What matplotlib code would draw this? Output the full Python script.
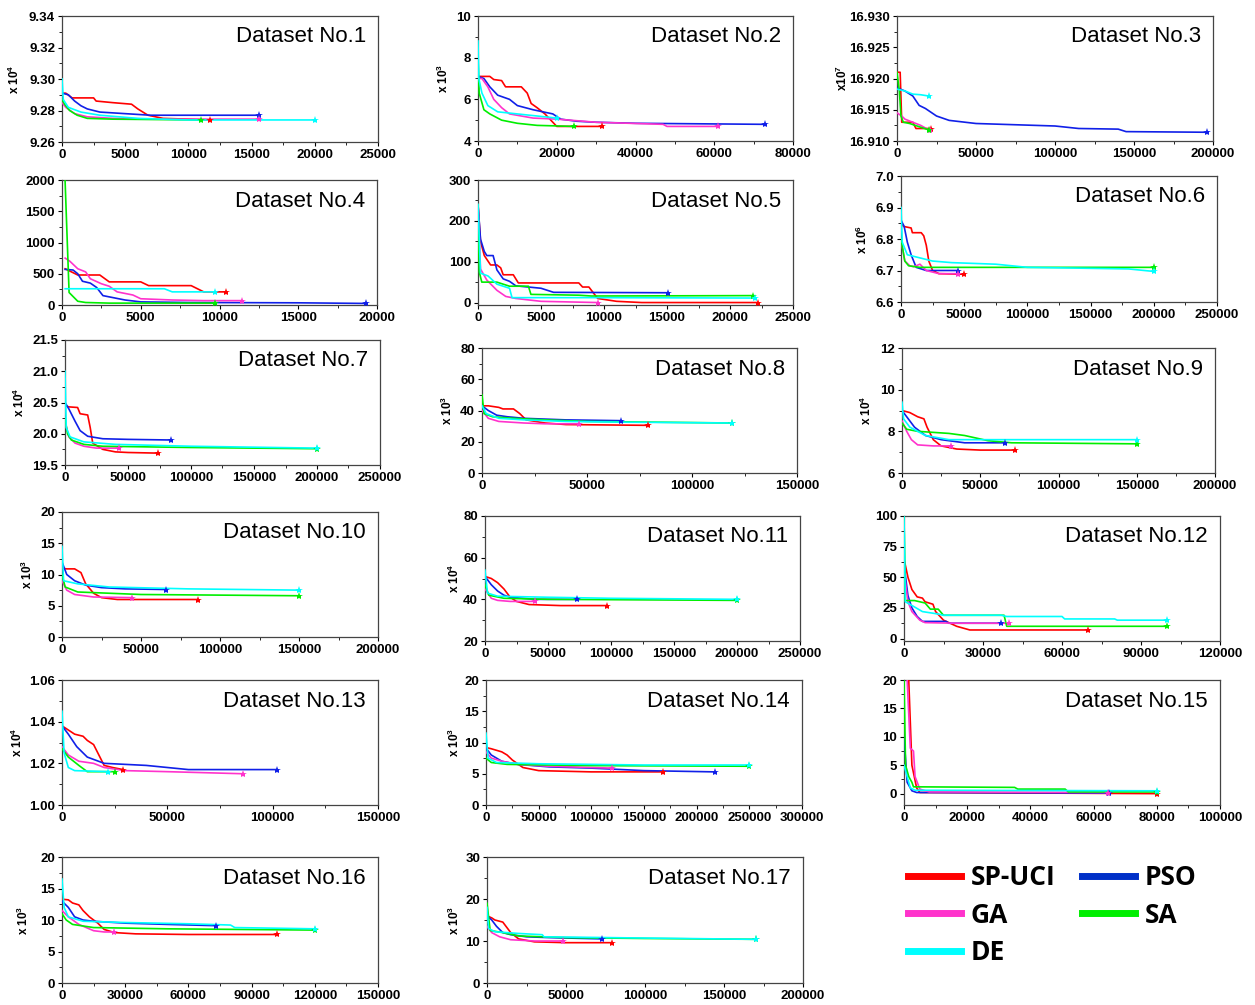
"""
Convergence curves of SP-UCI, PSO, GA, SA and DE on 17 datasets.
"""

import numpy as np
import matplotlib
matplotlib.use("Agg")
import matplotlib.pyplot as plt
from matplotlib.lines import Line2D
from matplotlib.ticker import AutoMinorLocator, FormatStrFormatter

plt.rcParams['font.family'] = ['Liberation Sans', 'DejaVu Sans']
plt.rcParams['mathtext.fontset'] = 'custom'
plt.rcParams['mathtext.rm'] = 'Liberation Sans:bold'
plt.rcParams['mathtext.bf'] = 'Liberation Sans:bold'

ALGOS = ["SP-UCI", "PSO", "GA", "SA", "DE"]
COLORS = {"SP-UCI": "#ff0000", "PSO": "#1020e8", "GA": "#ff33cc",
          "SA": "#00ee00", "DE": "#00ffff"}
LEGEND_COLORS = {"SP-UCI": "#ff0000", "PSO": "#0030c8", "GA": "#ff33cc",
                 "SA": "#00ee00", "DE": "#00ffff"}

# ---- data: (function evaluations, best objective) per algorithm ----
D1_SP = [(0, 9.291), (300, 9.291), (800, 9.288), (2500, 9.288), (2700, 9.286), (4000, 9.285),
         (5500, 9.284), (6000, 9.281), (6800, 9.277), (8000, 9.275), (10000, 9.2745), (11700, 9.274)]
D1_PSO = [(0, 9.291), (500, 9.290), (1000, 9.286), (1500, 9.283), (2000, 9.281), (3000, 9.279),
          (5000, 9.278), (7000, 9.277), (15600, 9.277)]
D1_GA = [(0, 9.285), (300, 9.282), (1000, 9.278), (2000, 9.276), (4000, 9.275), (8000, 9.2745),
         (15600, 9.2745)]
D1_SA = [(0, 9.287), (200, 9.284), (600, 9.280), (1200, 9.277), (2000, 9.275), (4000, 9.2745),
         (11000, 9.274)]
D1_DE = [(0, 9.300), (100, 9.287), (500, 9.282), (1500, 9.279), (3000, 9.277), (6000, 9.275),
         (10000, 9.274), (20000, 9.274)]

D2_SP = [(0, 7.1), (3000, 7.1), (4000, 6.95), (6000, 6.9), (7000, 6.6), (11000, 6.6), (12500, 6.3),
         (13500, 5.8), (15000, 5.6), (17000, 5.3), (19000, 4.9), (20000, 4.7), (31500, 4.7)]
D2_PSO = [(0, 7.1), (1500, 7.0), (3000, 6.6), (5000, 6.2), (8000, 6.0), (10000, 5.7), (14000, 5.5),
          (19000, 5.3), (21000, 5.05), (25000, 4.95), (30000, 4.9), (40000, 4.85), (73000, 4.8)]
D2_GA = [(0, 7.0), (1000, 7.0), (2500, 6.6), (4000, 6.0), (6000, 5.6), (8000, 5.3), (14000, 5.1),
         (20000, 5.05), (30000, 4.9), (47000, 4.8), (48000, 4.7), (61000, 4.7)]
D2_SA = [(0, 8.0), (300, 6.3), (1500, 5.5), (3000, 5.3), (6000, 5.0), (10000, 4.85), (15000, 4.75),
         (24500, 4.7)]
D2_DE = [(0, 8.8), (200, 7.0), (1000, 6.3), (2500, 5.7), (5000, 5.4), (10000, 5.3), (15000, 5.2),
         (20000, 5.1)]

D3_SP = [(0, 16.921), (2000, 16.921), (3000, 16.913), (10000, 16.913), (12000, 16.912), (21500, 16.912)]
D3_PSO = [(0, 16.9185), (5000, 16.918), (10000, 16.9172), (14000, 16.9157), (18000, 16.9152),
          (25000, 16.914), (33000, 16.9133), (50000, 16.9128), (100000, 16.9124), (115000, 16.912),
          (140000, 16.9119), (145000, 16.9115), (196000, 16.9114)]
D3_GA = [(0, 16.9145), (3000, 16.914), (5000, 16.9135), (10000, 16.913), (15000, 16.9125),
         (20000, 16.9118), (21000, 16.9117)]
D3_SA = [(0, 16.921), (1500, 16.918), (2500, 16.914), (4000, 16.913), (8000, 16.9128),
         (15000, 16.9122), (20000, 16.9118)]
D3_DE = [(0, 16.9183), (5000, 16.918), (10000, 16.9175), (15000, 16.9174), (20000, 16.9172)]

D4_SP = [(200, 580), (1000, 480), (2400, 480), (3000, 370), (5000, 370), (5500, 310), (8200, 310),
         (9000, 210), (10400, 210)]
D4_PSO = [(200, 570), (700, 560), (1000, 500), (1300, 380), (1800, 350), (2200, 280), (2600, 150),
          (3000, 130), (4000, 80), (5000, 50), (8000, 40), (15000, 35), (19300, 25)]
D4_GA = [(200, 750), (500, 700), (1000, 580), (1500, 530), (1800, 420), (2500, 340), (3000, 300),
         (3500, 210), (4500, 160), (5000, 100), (7000, 80), (9000, 70), (11400, 70)]
D4_SA = [(180, 2100), (450, 200), (1000, 60), (1500, 40), (3000, 30), (9700, 30)]
D4_DE = [(200, 260), (6500, 260), (7000, 210), (9700, 210)]

D5_SP = [(0, 240), (200, 150), (500, 115), (1000, 92), (1500, 92), (1800, 85), (2000, 68), (2800, 68),
         (3200, 48), (8000, 48), (8300, 38), (8800, 38), (9500, 10), (11000, 3), (13000, 0), (22200, 0)]
D5_PSO = [(0, 240), (200, 155), (500, 125), (700, 115), (1200, 115), (1500, 80), (2000, 58),
          (2500, 52), (3000, 41), (5000, 35), (6000, 25), (15100, 24)]
D5_GA = [(0, 240), (200, 82), (700, 55), (1500, 30), (2200, 15), (3000, 10), (5000, 3), (9500, 0)]
D5_SA = [(0, 240), (100, 75), (300, 50), (1500, 50), (2500, 40), (4000, 40), (4200, 20), (8000, 18),
         (9000, 16), (21800, 17)]
D5_DE = [(0, 240), (200, 72), (800, 65), (1500, 45), (2500, 35), (2700, 12), (9000, 12), (22000, 11)]

D6_SP = [(0, 6.85), (2000, 6.84), (8000, 6.835), (9000, 6.82), (16000, 6.82), (18000, 6.81),
         (20000, 6.78), (22000, 6.73), (25000, 6.70), (30000, 6.69), (50000, 6.688)]
D6_PSO = [(0, 6.86), (2500, 6.84), (5000, 6.79), (8000, 6.75), (12000, 6.71), (16000, 6.705),
          (20000, 6.70), (45000, 6.70)]
D6_GA = [(0, 6.80), (3000, 6.73), (7000, 6.715), (10000, 6.712), (15000, 6.72), (20000, 6.70),
         (30000, 6.69), (45000, 6.69)]
D6_SA = [(0, 6.80), (3000, 6.73), (6000, 6.715), (15000, 6.71), (200000, 6.71)]
D6_DE = [(0, 6.90), (1000, 6.79), (5000, 6.75), (15000, 6.74), (25000, 6.73), (40000, 6.725),
         (75000, 6.72), (100000, 6.71), (180000, 6.705), (200000, 6.697)]

D7_SP = [(0, 20.45), (3000, 20.43), (10000, 20.42), (12000, 20.32), (18000, 20.3), (20000, 20.1),
         (22000, 19.85), (30000, 19.75), (40000, 19.71), (50000, 19.70), (74000, 19.69)]
D7_PSO = [(0, 20.5), (3000, 20.4), (8000, 20.2), (12000, 20.05), (18000, 19.96), (30000, 19.92),
          (50000, 19.91), (84000, 19.9)]
D7_GA = [(0, 20.2), (3000, 19.95), (8000, 19.85), (15000, 19.8), (25000, 19.77), (43000, 19.77)]
D7_SA = [(0, 20.25), (2000, 20.0), (5000, 19.9), (15000, 19.83), (30000, 19.8), (100000, 19.78),
         (200000, 19.76)]
D7_DE = [(0, 21.0), (1000, 20.1), (4000, 19.95), (15000, 19.87), (40000, 19.83), (100000, 19.8),
         (200000, 19.77)]

D8_SP = [(0, 43), (3000, 43), (8000, 42), (10000, 41), (15000, 41), (18000, 38), (21000, 34),
         (30000, 32), (40000, 31), (79000, 30.5)]
D8_PSO = [(0, 43), (3000, 40), (7000, 37), (12000, 36), (20000, 35), (40000, 34), (66000, 33.5)]
D8_GA = [(0, 40), (3000, 35), (8000, 33), (20000, 32), (30000, 31.5), (46000, 31.5)]
D8_SA = [(0, 50), (1000, 38), (5000, 36), (15000, 35), (30000, 34), (50000, 33), (119000, 32)]
D8_DE = [(0, 43), (2000, 38), (8000, 35), (20000, 34), (40000, 33), (70000, 32.5), (119000, 32)]

D9_SP = [(0, 9.0), (5000, 8.9), (10000, 8.7), (14000, 8.6), (16000, 8.2), (20000, 7.6), (25000, 7.3),
         (35000, 7.15), (50000, 7.1), (72000, 7.1)]
D9_PSO = [(0, 9.0), (3000, 8.7), (8000, 8.2), (15000, 7.8), (25000, 7.6), (40000, 7.45), (66000, 7.45)]
D9_GA = [(0, 8.5), (3000, 8.0), (6000, 7.6), (10000, 7.35), (20000, 7.3), (31000, 7.3)]
D9_SA = [(0, 8.4), (3000, 8.1), (10000, 8.0), (30000, 7.9), (40000, 7.8), (55000, 7.55), (70000, 7.45),
         (150000, 7.4)]
D9_DE = [(0, 9.4), (1000, 8.6), (5000, 8.2), (15000, 7.8), (30000, 7.6), (150000, 7.6)]

D10_SP = [(0, 11), (3000, 10.9), (8000, 10.9), (12000, 10.3), (15000, 8.5), (20000, 7.0), (25000, 6.3),
          (35000, 6.0), (86000, 6.0)]
D10_PSO = [(0, 12), (3000, 10), (8000, 9), (15000, 8.3), (25000, 7.9), (40000, 7.7), (66000, 7.6)]
D10_GA = [(0, 9), (3000, 7.5), (8000, 6.8), (20000, 6.4), (44000, 6.3)]
D10_SA = [(0, 10), (2000, 8), (10000, 7.2), (50000, 6.8), (150000, 6.6)]
D10_DE = [(0, 14.5), (1000, 9), (10000, 8.5), (30000, 8.0), (80000, 7.7), (150000, 7.5)]

D11_SP = [(0, 51), (5000, 50), (10000, 48), (15000, 45), (20000, 41), (25000, 39), (35000, 37.5),
          (60000, 37), (97000, 37)]
D11_PSO = [(0, 51), (5000, 47), (10000, 44), (15000, 42), (20000, 41), (40000, 40), (73000, 40)]
D11_GA = [(0, 45), (5000, 40.5), (10000, 39.5), (20000, 39), (40000, 39)]
D11_SA = [(0, 47), (3000, 42), (15000, 40.5), (50000, 40), (200000, 39.5)]
D11_DE = [(0, 54), (2000, 43), (10000, 41.5), (50000, 41), (100000, 40.5), (200000, 40)]

D12_SP = [(0, 65), (1500, 50), (3000, 40), (5000, 34), (7000, 33), (8000, 30), (11000, 28), (12000, 22),
          (15000, 15), (20000, 10), (25000, 7), (70000, 7)]
D12_PSO = [(0, 60), (1500, 35), (3000, 25), (5000, 18), (7000, 14), (16000, 14), (17000, 12.5),
           (37000, 12.5)]
D12_GA = [(0, 55), (1500, 30), (3000, 22), (6000, 15), (8000, 13), (20000, 12.5), (40000, 12.5)]
D12_SA = [(0, 100), (500, 31), (4000, 31), (8000, 29), (10000, 24), (13000, 24), (15000, 19),
          (38000, 19), (39000, 10), (100000, 10)]
D12_DE = [(0, 100), (500, 30), (3000, 27), (7000, 22), (13000, 20), (15000, 19), (37000, 19),
          (39000, 18), (60000, 18), (61000, 16), (80000, 16), (81000, 15), (100000, 15)]

D13_SP = [(0, 1.038), (3000, 1.036), (6000, 1.034), (10000, 1.033), (12000, 1.031), (15000, 1.029),
          (18000, 1.023), (20000, 1.019), (24000, 1.018), (29000, 1.017)]
D13_PSO = [(0, 1.038), (3000, 1.034), (7000, 1.028), (12000, 1.023), (20000, 1.020), (40000, 1.019),
           (50000, 1.018), (60000, 1.017), (102000, 1.017)]
D13_GA = [(0, 1.028), (3000, 1.024), (8000, 1.021), (15000, 1.020), (20000, 1.018), (30000, 1.0165),
          (50000, 1.016), (86000, 1.015)]
D13_SA = [(0, 1.027), (3000, 1.023), (8000, 1.019), (12000, 1.016), (25000, 1.016)]
D13_DE = [(0, 1.045), (1000, 1.025), (3000, 1.018), (6000, 1.0165), (22000, 1.016)]

D14_SP = [(0, 9.2), (5000, 9.0), (15000, 8.5), (20000, 8.0), (25000, 7.2), (35000, 6.0), (50000, 5.5),
          (100000, 5.3), (168000, 5.3)]
D14_PSO = [(0, 9.1), (5000, 8.0), (15000, 7.0), (30000, 6.5), (60000, 6.1), (100000, 5.9),
           (150000, 5.5), (217000, 5.3)]
D14_GA = [(0, 8.5), (5000, 7.5), (15000, 7.0), (30000, 6.5), (60000, 6.2), (120000, 5.9)]
D14_SA = [(0, 7.5), (5000, 6.8), (20000, 6.5), (100000, 6.3), (250000, 6.2)]
D14_DE = [(0, 11.5), (2000, 7.5), (10000, 6.8), (50000, 6.6), (150000, 6.4), (250000, 6.4)]

D15_SP = [(0, 25), (1500, 20), (2500, 5), (4000, 1), (5000, 0.2), (80000, 0.0)]
D15_PSO = [(0, 10), (1000, 2), (2500, 0.5), (4000, 0.2), (65000, 0.1)]
D15_GA = [(0, 25), (1000, 20), (2000, 8), (3000, 7.5), (3500, 3), (5000, 0.8), (8000, 0.3),
          (64500, 0.2)]
D15_SA = [(0, 20), (500, 5), (1500, 3), (2500, 2), (3000, 1.2), (35000, 1.1), (36000, 0.8),
          (51000, 0.8), (52000, 0.3), (80000, 0.3)]
D15_DE = [(0, 5), (1000, 3), (2000, 1), (3500, 0.6), (80000, 0.5)]

D16_SP = [(0, 13.3), (3000, 13.2), (5000, 12.7), (8000, 12.4), (10000, 11.5), (13000, 10.5),
          (17000, 9.5), (20000, 8.5), (25000, 8.0), (35000, 7.8), (60000, 7.7), (102000, 7.7)]
D16_PSO = [(0, 13.0), (3000, 12.0), (6000, 10.5), (10000, 10.0), (15000, 9.8), (30000, 9.5),
           (50000, 9.3), (73000, 9.1)]
D16_GA = [(0, 11.5), (3000, 10.5), (8000, 9.3), (15000, 8.3), (20000, 8.1), (24500, 8.1)]
D16_SA = [(0, 11), (2000, 10), (5000, 9.3), (15000, 8.8), (50000, 8.6), (120000, 8.4)]
D16_DE = [(0, 16.5), (1000, 12), (3000, 10.5), (10000, 9.8), (30000, 9.6), (60000, 9.4), (80000, 9.2),
          (82000, 8.8), (120000, 8.6)]

D17_SP = [(0, 16), (3000, 15.5), (5000, 15), (10000, 14.5), (12000, 13.5), (15000, 12), (20000, 10.5),
          (30000, 9.8), (50000, 9.6), (79000, 9.6)]
D17_PSO = [(0, 16), (3000, 15), (6000, 13.5), (10000, 12), (15000, 11.5), (25000, 11), (40000, 10.8),
           (73000, 10.5)]
D17_GA = [(0, 13.5), (3000, 12), (8000, 11), (15000, 10.3), (30000, 10.0), (48000, 10.0)]
D17_SA = [(0, 19), (2000, 12.5), (10000, 12), (20000, 11.2), (50000, 10.8), (100000, 10.6),
          (170000, 10.4)]
D17_DE = [(0, 18), (1000, 13), (5000, 12.2), (20000, 11.8), (35000, 11.5), (36000, 11),
          (100000, 10.7), (170000, 10.4)]

CURVES = [
    (D1_SP, D1_PSO, D1_GA, D1_SA, D1_DE), (D2_SP, D2_PSO, D2_GA, D2_SA, D2_DE),
    (D3_SP, D3_PSO, D3_GA, D3_SA, D3_DE), (D4_SP, D4_PSO, D4_GA, D4_SA, D4_DE),
    (D5_SP, D5_PSO, D5_GA, D5_SA, D5_DE), (D6_SP, D6_PSO, D6_GA, D6_SA, D6_DE),
    (D7_SP, D7_PSO, D7_GA, D7_SA, D7_DE), (D8_SP, D8_PSO, D8_GA, D8_SA, D8_DE),
    (D9_SP, D9_PSO, D9_GA, D9_SA, D9_DE), (D10_SP, D10_PSO, D10_GA, D10_SA, D10_DE),
    (D11_SP, D11_PSO, D11_GA, D11_SA, D11_DE), (D12_SP, D12_PSO, D12_GA, D12_SA, D12_DE),
    (D13_SP, D13_PSO, D13_GA, D13_SA, D13_DE), (D14_SP, D14_PSO, D14_GA, D14_SA, D14_DE),
    (D15_SP, D15_PSO, D15_GA, D15_SA, D15_DE), (D16_SP, D16_PSO, D16_GA, D16_SA, D16_DE),
    (D17_SP, D17_PSO, D17_GA, D17_SA, D17_DE),
]

# ---- axes settings: x max, x step, (y min, y max), y step, y format, y label ----
XMAX = [25000, 80000, 200000, 20000, 25000, 250000, 250000, 150000, 200000,
        200000, 250000, 120000, 150000, 300000, 100000, 150000, 200000]
XSTEP = [5000, 20000, 50000, 5000, 5000, 50000, 50000, 50000, 50000,
         50000, 50000, 30000, 50000, 50000, 20000, 30000, 50000]
YTICKS = [(9.26, 9.34, 0.02), (4, 10, 2), (16.910, 16.930, 0.005), (0, 2000, 500), (0, 300, 100),
          (6.6, 7.0, 0.1), (19.5, 21.5, 0.5), (0, 80, 20), (6, 12, 2), (0, 20, 5), (20, 80, 20),
          (0, 100, 25), (1.00, 1.06, 0.02), (0, 20, 5), (0, 20, 5), (0, 20, 5), (0, 30, 10)]
YLOW = [None, None, None, None, -6, None, None, None, None, None, None, -2, None, None, -2, None, None]
YFMT = ["%.2f", "%d", "%.3f", "%d", "%d", "%.1f", "%.1f", "%d", "%d", "%d", "%d", "%d",
        "%.2f", "%d", "%d", "%d", "%d"]
YLABELS = [r"x 10$^4$", r"x 10$^3$", r"x10$^7$", None, None, r"x 10$^6$", r"x 10$^4$",
           r"x 10$^3$", r"x 10$^4$", r"x 10$^3$", r"x 10$^4$", None, r"x 10$^4$",
           r"x 10$^3$", None, r"x 10$^3$", r"x 10$^3$"]

# axes boxes in pixels (left, top, right, bottom) and y-label offset
BOXES = [(62, 16, 378, 142), (478, 16, 793, 141), (897, 16, 1213, 141),
         (62, 180, 377, 305), (478, 180, 793, 305), (901, 176, 1217, 302),
         (65, 340, 380, 465), (482, 348, 797, 473), (902, 348, 1215, 473),
         (62, 512, 378, 637), (485, 516, 800, 641), (904, 516, 1220, 641),
         (62, 680, 378, 805), (486, 680, 802, 805), (904, 680, 1220, 805),
         (62, 857, 378, 983), (487, 857, 803, 983)]
LABEL_OFF = [48, 35, 55, 0, 0, 39, 46, 35, 36, 35, 31, 0, 45, 32, 0, 39, 33]

W, H = 1255, 1005
fig = plt.figure(figsize=(W / 100, H / 100), dpi=100)

for i in range(17):
    l, t, r, b = BOXES[i]
    ax = fig.add_axes([l / W, 1 - b / H, (r - l) / W, (b - t) / H])
    for algo, pts in zip(ALGOS, CURVES[i]):
        arr = np.array(pts, dtype=float)
        ax.plot(arr[:, 0], arr[:, 1], color=COLORS[algo], lw=1.2, zorder=3)
        ax.plot(arr[-1, 0], arr[-1, 1], marker="*", color=COLORS[algo], ms=6,
                mew=0, zorder=4, clip_on=False)

    y0, y1, ys = YTICKS[i]
    ax.set_xlim(0, XMAX[i])
    ax.set_xticks(np.arange(0, XMAX[i] + 1, XSTEP[i]))
    ax.set_yticks(np.arange(y0, y1 + ys / 2, ys))
    ax.set_ylim(YLOW[i] if YLOW[i] is not None else y0, y1)
    ax.yaxis.set_major_formatter(FormatStrFormatter(YFMT[i]))
    ax.xaxis.set_minor_locator(AutoMinorLocator(2))
    ax.yaxis.set_minor_locator(AutoMinorLocator(2))
    ax.tick_params(which="major", direction="out", length=3, width=0.8,
                   labelsize=9.5, pad=2, top=False, right=False)
    ax.tick_params(which="minor", direction="out", length=2, width=0.6,
                   top=False, right=False)
    for lab in ax.get_xticklabels() + ax.get_yticklabels():
        lab.set_fontweight("bold")
    for sp in ax.spines.values():
        sp.set_color("#444444")
        sp.set_linewidth(0.9)

    ax.text(1 - 12 / (r - l), 1 - 21 / (b - t), f"Dataset No.{i + 1}",
            transform=ax.transAxes, ha="right", va="center", fontsize=16)

    if YLABELS[i]:
        ax.text(-LABEL_OFF[i] / (r - l), 0.5, YLABELS[i], transform=ax.transAxes,
                rotation=90, ha="center", va="center", fontsize=8.5, fontweight="bold")

# legend in the empty bottom-right slot
handles = [Line2D([0], [0], color=LEGEND_COLORS[a], lw=5) for a in ["SP-UCI", "GA", "DE", "PSO", "SA"]]
fig.legend(handles, ["SP-UCI", "GA", "DE", "PSO", "SA"], ncol=2, frameon=False,
           loc="upper left", bbox_to_anchor=(908 / W, 1 - 864 / H),
           prop={"family": "Open Sans", "weight": "bold", "size": 19},
           handlelength=2.0, handletextpad=0.38, labelspacing=0.4,
           columnspacing=1.0, borderaxespad=0, borderpad=0)

fig.savefig("out.png", dpi=100, facecolor="white")
